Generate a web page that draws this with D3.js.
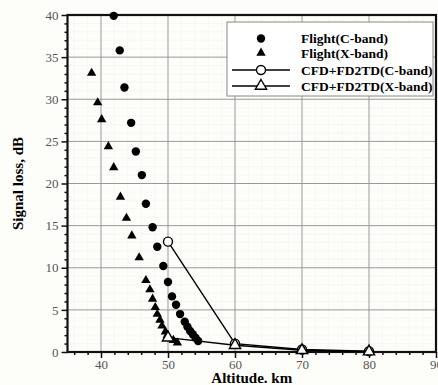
<!DOCTYPE html>
<html>
<head>
<meta charset="utf-8">
<script src="https://cdn.jsdelivr.net/npm/d3@7"></script>
<style>
  html, body { margin: 0; padding: 0; background: #fdfdf9; }
  svg { display: block; }
</style>
</head>
<body>
<div id="chart"></div>
<script>
// Flight data (C-band circles / X-band triangles)
var flightCAlt = [41.9, 42.8, 43.5, 44.5, 45.2, 46.1, 46.7, 47.7, 48.4, 49.3, 50.0, 50.6, 51.2, 51.8, 52.5, 52.9, 53.3, 53.7, 54.1, 54.5];
var flightCLoss = [39.9, 35.8, 31.4, 27.2, 23.8, 21.0, 17.6, 14.8, 12.5, 10.2, 8.3, 6.6, 5.6, 4.5, 3.6, 3.0, 2.5, 2.1, 1.7, 1.3];
var flightXAlt = [38.6, 39.5, 40.1, 41.1, 41.9, 42.9, 43.8, 44.6, 45.7, 46.7, 47.3, 47.7, 48.1, 48.4, 48.8, 49.1, 49.6, 49.9, 50.8, 51.4];
var flightXLoss = [33.1, 29.6, 27.6, 24.4, 21.9, 18.4, 15.9, 13.8, 11.2, 8.5, 7.4, 6.3, 5.3, 4.5, 3.8, 3.1, 2.4, 2.0, 1.4, 1.1];
// CFD+FD2TD simulation
var cfdAlt = [50, 60, 70, 80];
var cfdCLoss = [13.1, 1.0, 0.3, 0.1];
var cfdXLoss = [1.7, 0.8, 0.2, 0.05];

var xTicks = [40, 50, 60, 70, 80, 90];
var yTicks = [0, 5, 10, 15, 20, 25, 30, 35, 40];

var W = 438, H = 385;
var margin = {top: 15, right: 2, bottom: 33, left: 67.5};
var width = W - margin.left - margin.right,
    height = H - margin.top - margin.bottom;

var svg = d3.select("#chart").append("svg")
    .attr("width", W).attr("height", H)
  .append("g")
    .attr("transform", "translate(" + margin.left + "," + margin.top + ")");

var x = d3.scaleLinear().domain([35, 90]).range([0, width]);
var y = d3.scaleLinear().domain([0, 40]).range([height, 0]);

var serif = "'Liberation Serif', 'Times New Roman', serif";

var xMinorVals = d3.range(36, 90, 2).filter(function(d){ return d % 10; });
var yMinorVals = d3.range(1, 40).filter(function(d){ return d % 5; });

// faint minor grid
svg.append("g").selectAll("line")
  .data(xMinorVals)
  .enter().append("line")
    .attr("x1", function(d){ return x(d); }).attr("x2", function(d){ return x(d); })
    .attr("y1", 0).attr("y2", height)
    .attr("stroke", "#f1f1ee").attr("stroke-width", 0.6);
svg.append("g").selectAll("line")
  .data(yMinorVals)
  .enter().append("line")
    .attr("y1", function(d){ return y(d); }).attr("y2", function(d){ return y(d); })
    .attr("x1", 0).attr("x2", width)
    .attr("stroke", "#f1f1ee").attr("stroke-width", 0.6);

// major grid
svg.append("g").selectAll("line")
  .data(xTicks.filter(function(d){ return d < 90; }))
  .enter().append("line")
    .attr("x1", function(d){ return x(d); }).attr("x2", function(d){ return x(d); })
    .attr("y1", 0).attr("y2", height)
    .attr("stroke", "#999").attr("stroke-width", 1);
svg.append("g").selectAll("line")
  .data(yTicks.filter(function(d){ return d > 0 && d < 40; }))
  .enter().append("line")
    .attr("y1", function(d){ return y(d); }).attr("y2", function(d){ return y(d); })
    .attr("x1", 0).attr("x2", width)
    .attr("stroke", "#999").attr("stroke-width", 1);

// axes
var xAxis = svg.append("g")
    .attr("transform", "translate(0," + height + ")")
    .call(d3.axisBottom(x).tickValues(xTicks).tickSize(6).tickPadding(2));
var xMinor = svg.append("g")
    .attr("transform", "translate(0," + height + ")")
    .call(d3.axisBottom(x).tickValues(xMinorVals).tickSize(3).tickFormat(""));
var yAxis = svg.append("g")
    .call(d3.axisLeft(y).tickValues(yTicks).tickSize(6).tickPadding(3));
var yMinor = svg.append("g")
    .call(d3.axisLeft(y).tickValues(yMinorVals).tickSize(3).tickFormat(""));

[xAxis, yAxis, xMinor, yMinor].forEach(function(a){
  a.select(".domain").remove();
  a.selectAll("line").attr("stroke", "#111").attr("stroke-width", 1.5);
  a.selectAll("text").style("font-family", serif).style("font-size", "13px").attr("fill", "#555");
});

// frame
svg.append("rect")
    .attr("x", 0).attr("y", 0).attr("width", width).attr("height", height)
    .attr("fill", "none").attr("stroke", "#111").attr("stroke-width", 2.2);

// axis titles
svg.append("text")
    .text("Altitude. km")
    .attr("x", width / 2).attr("y", height + 30.5)
    .attr("text-anchor", "middle")
    .style("font-family", serif).style("font-size", "15px").style("font-weight", "bold");
svg.append("text")
    .text("Signal loss, dB")
    .attr("transform", "translate(" + (-45) + "," + (height / 2) + ")rotate(-90)")
    .attr("text-anchor", "middle")
    .style("font-family", serif).style("font-size", "15px").style("font-weight", "bold");

var tri = d3.symbol().type(d3.symbolTriangle);

// CFD lines
var line = d3.line().x(function(d){ return x(d[0]); }).y(function(d){ return y(d[1]); });
var cfdC = cfdAlt.map(function(a, i){ return [a, cfdCLoss[i]]; });
var cfdX = cfdAlt.map(function(a, i){ return [a, cfdXLoss[i]]; });
svg.append("path").attr("d", line(cfdC)).attr("fill", "none").attr("stroke", "#000").attr("stroke-width", 1.4);
svg.append("path").attr("d", line(cfdX)).attr("fill", "none").attr("stroke", "#000").attr("stroke-width", 1.4);

// flight X-band triangles
svg.selectAll(".fx")
  .data(flightXAlt.map(function(a, i){ return [a, flightXLoss[i]]; }))
  .enter().append("path")
    .attr("d", tri.size(38))
    .attr("transform", function(d){ return "translate(" + x(d[0]) + "," + y(d[1]) + ")"; })
    .attr("fill", "#000");

// flight C-band circles
svg.selectAll(".fc")
  .data(flightCAlt.map(function(a, i){ return [a, flightCLoss[i]]; }))
  .enter().append("circle")
    .attr("cx", function(d){ return x(d[0]); })
    .attr("cy", function(d){ return y(d[1]); })
    .attr("r", 4.2)
    .attr("fill", "#000");

// CFD markers
svg.selectAll(".cc")
  .data(cfdC)
  .enter().append("circle")
    .attr("cx", function(d){ return x(d[0]); })
    .attr("cy", function(d){ return y(d[1]); })
    .attr("r", 4.5)
    .attr("fill", "#fff").attr("stroke", "#000").attr("stroke-width", 1.4);
svg.selectAll(".cx")
  .data(cfdX)
  .enter().append("path")
    .attr("d", tri.size(55))
    .attr("transform", function(d){ return "translate(" + x(d[0]) + "," + y(d[1]) + ")"; })
    .attr("fill", "#fff").attr("stroke", "#000").attr("stroke-width", 1.4);

// legend
var lg = svg.append("g").attr("transform", "translate(" + (227 - margin.left) + "," + (22 - margin.top) + ")");
lg.append("rect").attr("width", 206).attr("height", 74)
    .attr("fill", "#fff").attr("stroke", "#888").attr("stroke-width", 1);
var legendItems = [
  {label: "Flight(C-band)", mark: "circle", fill: "#000", line: false},
  {label: "Flight(X-band)", mark: "tri", fill: "#000", line: false},
  {label: "CFD+FD2TD(C-band)", mark: "circle", fill: "#fff", line: true},
  {label: "CFD+FD2TD(X-band)", mark: "tri", fill: "#fff", line: true}
];
var rowY = [16.5, 31, 48, 64];
legendItems.forEach(function(it, i){
  var g = lg.append("g").attr("transform", "translate(34," + rowY[i] + ")");
  if (it.line) {
    g.append("line").attr("x1", -29).attr("x2", 29).attr("stroke", "#000").attr("stroke-width", 1.4);
  }
  if (it.mark === "circle") {
    g.append("circle").attr("r", it.line ? 4.5 : 4.2).attr("fill", it.fill)
      .attr("stroke", it.line ? "#000" : "none").attr("stroke-width", 1.4);
  } else {
    g.append("path").attr("d", tri.size(it.line ? 55 : 38)()).attr("fill", it.fill)
      .attr("stroke", it.line ? "#000" : "none").attr("stroke-width", 1.4);
  }
  lg.append("text").text(it.label)
    .attr("x", 74).attr("y", rowY[i]).attr("dy", "0.35em")
    .style("font-family", serif).style("font-size", "13.5px").style("font-weight", "bold");
});
</script>
</body>
</html>
